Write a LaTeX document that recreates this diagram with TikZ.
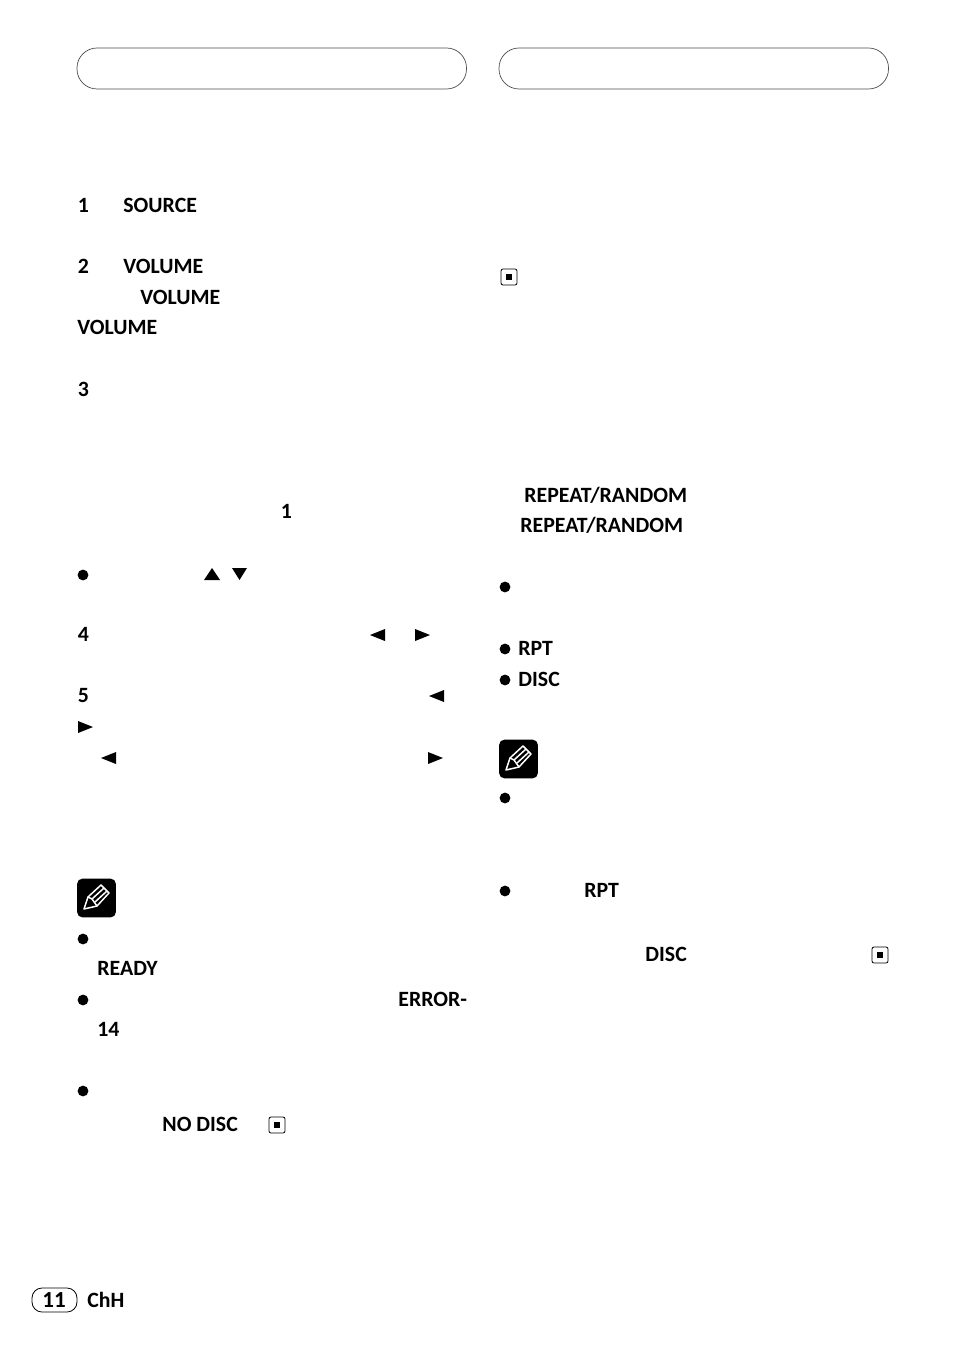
\documentclass[tikz,border=0pt]{standalone}
\usepackage{fontspec}
\setmainfont{Carlito}
\tikzset{
    label/.style={inner sep=0pt, anchor=base west, font=\bfseries\fontsize{10.9}{12}\selectfont},
    headbox/.style={draw=black!70, line width=0.35pt, rounded corners=10pt},
    stopbox/.style={draw=black, line width=0.4pt, rounded corners=1pt, minimum size=8pt, inner sep=0pt},
    stopmark/.style={fill=black, minimum size=3.4pt, inner sep=0pt},
    dot/.style={circle, fill=black, minimum size=5.4pt, inner sep=0pt},
    notebox/.style={fill=black, rounded corners=2.5pt, minimum size=19.3pt, inner sep=0pt},
    pencil/.style={draw=white, line width=0.75pt, line join=round}
}
\newcommand{\notepencil}[2]{
    \begin{scope}[shift={(#1,#2)}]
        \draw[pencil] (7,30) -- (11,18) -- (24,6) -- (32,14) -- (20,27) -- cycle;
        \draw[pencil] (11,18) -- (15,20) -- (27,9);
        \draw[pencil] (15,20) -- (20,27);
        \draw[pencil] (18,23) -- (30,12);
    \end{scope}
}
\begin{document}
\begin{tikzpicture}[x=0.5pt, y=-0.5pt]
    \useasboundingbox (0,0) rectangle (954,1352);
    % header boxes
    \draw[headbox] (77,48) rectangle (466.5,89);
    \draw[headbox] (499,48) rectangle (888.5,89);
    % left column
    \node[label] (stepone) at (77.5,213) {1};
    \node[label] (source) at (123,213) {SOURCE};
    \node[label] (steptwo) at (77.5,274) {2};
    \node[label] (volumea) at (123,274) {VOLUME};
    \node[label] (volumeb) at (140,305) {VOLUME};
    \node[label] (volumec) at (77,335) {VOLUME};
    \node[label] (stepthree) at (77.5,397) {3};
    \node[label] (one) at (280.5,518) {1};
    \node[label] (stepfour) at (77.5,641) {4};
    \node[label] (stepfive) at (77.5,702) {5};
    \node[label] (ready) at (97,975) {READY};
    \node[label] (errora) at (398,1006) {ERROR-};
    \node[label] (errorb) at (97,1036) {14};
    \node[label] (nodisc) at (162,1131) {NO DISC};
    % right column
    \node[label] (repeata) at (524,502) {REPEAT/RANDOM};
    \node[label] (repeatb) at (520,532) {REPEAT/RANDOM};
    \node[label] (rpta) at (518,655) {RPT};
    \node[label] (disca) at (518,686) {DISC};
    \node[label] (rptb) at (584,897) {RPT};
    \node[label] (discb) at (645,961) {DISC};
    % bullets
    \foreach \x/\y in {83/575, 83/939, 83/1000, 83/1091, 505/587, 505/649, 505/680, 505/798, 505/891}
        \node[dot] at (\x,\y) {};
    % arrow marks
    \fill (204,580) -- (212,568) -- (220,580) -- cycle;
    \fill (232,568) -- (247,568) -- (239.5,580) -- cycle;
    \foreach \x/\y in {370/635, 429/696, 101/758}
        \fill (\x,\y) -- (\x+15,\y-6) -- (\x+15,\y+6) -- cycle;
    \foreach \x/\y in {415/635, 78/727, 428/758}
        \fill (\x,\y-6) -- (\x+15,\y) -- (\x,\y+6) -- cycle;
    % end marks
    \foreach \x/\y in {509/277, 880/955, 277/1125} {
        \node[stopbox] at (\x,\y) {};
        \node[stopmark] at (\x,\y) {};
    }
    % note icons
    \node[notebox] (notea) at (96.5,898) {};
    \notepencil{77}{879}
    \node[notebox] (noteb) at (518.5,759) {};
    \notepencil{499}{740}
    % page number
    \draw[line width=0.4pt, rounded corners=5pt] (32,1288) rectangle (77,1312);
    \node[inner sep=0pt, font=\bfseries\fontsize{11.5}{12}\selectfont] (page) at (54,1300) {11};
    \node[label] (lang) at (87,1307) {ChH};
\end{tikzpicture}
\end{document}
